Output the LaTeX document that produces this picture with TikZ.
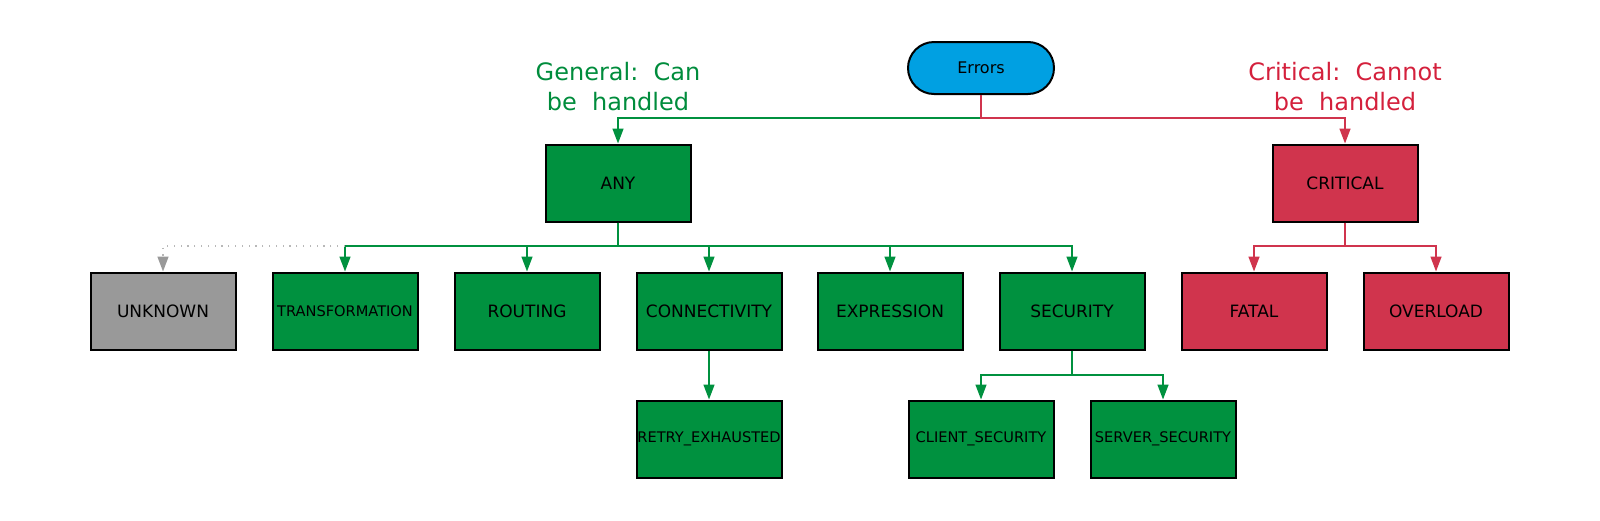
\documentclass[tikz,border=0pt]{standalone}
\usepackage{fontspec}
\setmainfont{DejaVu Sans}
\usetikzlibrary{arrows.meta}
\definecolor{errgreen}{RGB}{0,145,63}
\definecolor{errred}{RGB}{208,52,77}
\definecolor{errgray}{RGB}{153,153,153}
\definecolor{errblue}{RGB}{0,160,226}
\definecolor{txtgreen}{RGB}{0,140,60}
\definecolor{txtred}{RGB}{212,32,60}
\begin{document}
\begin{tikzpicture}[x=0.5pt,y=-0.5pt,
  box/.style={draw=black,line width=1pt,minimum width=72.5pt,minimum height=38.5pt,
              inner sep=0pt,font=\fontsize{8.5}{10}\selectfont},
  gbox/.style={box,fill=errgreen},
  rbox/.style={box,fill=errred},
  longlabel/.style={font=\fontsize{7.3}{8}\selectfont},
  arr/.style={-{Triangle[length=7.5pt,width=5.5pt]}},
  gline/.style={errgreen,line width=0.75pt,arr},
  rline/.style={errred,line width=0.75pt,arr},
  heading/.style={font=\fontsize{12}{15}\selectfont,align=center}]
  \useasboundingbox (0,0) rectangle (1600,520);
  % root
  \node[draw=black,line width=1pt,fill=errblue,rounded corners=13pt,minimum width=73pt,
        minimum height=26pt,font=\fontsize{8}{10}\selectfont] (errors) at (981,68) {Errors};
  \node[heading,text=txtgreen] (general)  at ( 618,87) {General:\ \ Can\\be\ \ handled};
  \node[heading,text=txtred]   (critlbl)  at (1345,87) {Critical:\ \ Cannot\\be\ \ handled};
  % second level
  \node[gbox] (any)      at ( 618,183) {ANY};
  \node[rbox] (critical) at (1345,183) {CRITICAL};
  % third level
  \node[box,fill=errgray]  (unknown)  at ( 163,311) {UNKNOWN};
  \node[gbox,longlabel]    (trans)    at ( 345,311) {TRANSFORMATION};
  \node[gbox]              (routing)  at ( 527,311) {ROUTING};
  \node[gbox]              (conn)     at ( 709,311) {CONNECTIVITY};
  \node[gbox]              (expr)     at ( 890,311) {EXPRESSION};
  \node[gbox]              (sec)      at (1072,311) {SECURITY};
  \node[rbox]              (fatal)    at (1254,311) {FATAL};
  \node[rbox]              (overload) at (1436,311) {OVERLOAD};
  % fourth level
  \node[gbox,longlabel] (retry)  at ( 709,439) {RETRY\_EXHAUSTED};
  \node[gbox,longlabel] (client) at ( 981,439) {CLIENT\_SECURITY};
  \node[gbox,longlabel] (server) at (1163,439) {SERVER\_SECURITY};
  % connectors
  \coordinate (topbus)  at ( 981,118);
  \coordinate (anybus)  at ( 618,246);
  \coordinate (critbus) at (1345,246);
  \coordinate (secbus)  at (1072,375);
  \draw[gline] (topbus) -| (any.north);
  \draw[rline] (errors.south) -- (topbus) -| (critical.north);
  \foreach \n in {trans,routing,conn,expr,sec}
    \draw[gline] (any.south) -- (anybus) -| (\n.north);
  \draw[errgray!70,line width=0.75pt,dash pattern=on 0.6pt off 2.8pt,
        -{Triangle[length=7.5pt,width=5.5pt,fill=errgray,color=errgray]}]
    (trans.north |- anybus) -| (unknown.north);
  \draw[gline] (conn.south) -- (retry.north);
  \foreach \n in {client,server}
    \draw[gline] (sec.south) -- (secbus) -| (\n.north);
  \foreach \n in {fatal,overload}
    \draw[rline] (critical.south) -- (critbus) -| (\n.north);
\end{tikzpicture}
\end{document}
